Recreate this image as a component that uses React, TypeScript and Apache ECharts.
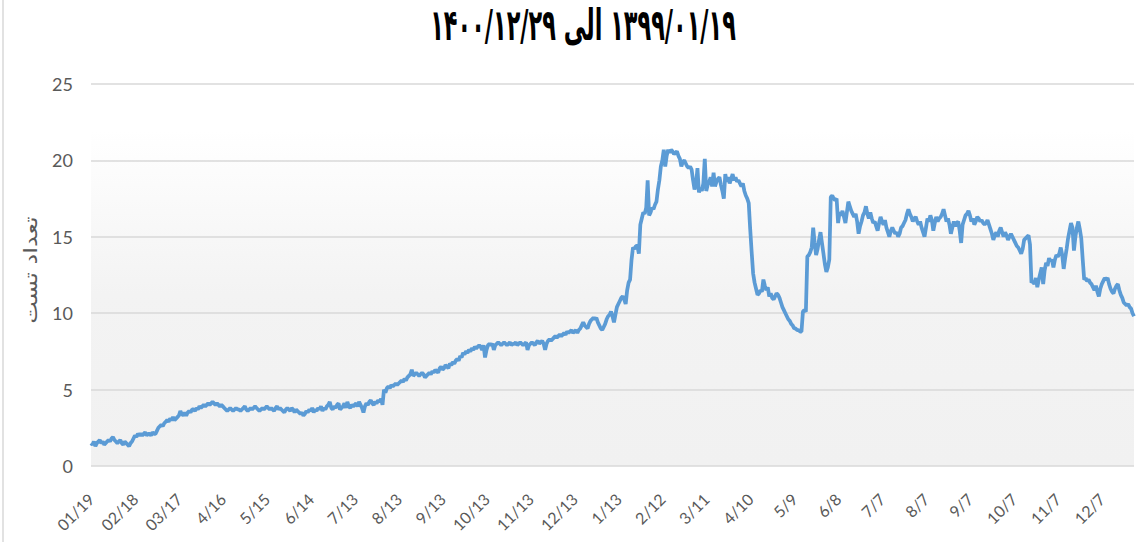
import React, { useEffect, useRef } from "react";
import * as echarts from "echarts";

const titleText = "\u061C۱۳۹۹/۰۱/۱۹ الی ۱۴۰۰/۱۲/۲۹";
const yAxisName = "تعداد تست";

const tickLabels = ["01/19","02/18","03/17","4/16","5/15","6/14","7/13","8/13","9/13","10/13","11/13","12/13","1/13","2/12","3/11","4/10","5/9","6/8","7/7","8/7","9/7","10/7","11/7","12/7"];

const month01 = [1.5,1.4,1.6,1.3,1.5,1.6,1.7,1.5,1.6,1.4,1.5,1.6,1.7,1.6,1.8,1.9,1.7,1.6,1.5,1.6,1.7,1.5,1.4,1.6,1.5,1.4,1.3,1.5,1.6,1.8];
const month02 = [2.0,1.9,2.1,2.0,2.1,2.0,2.1,2.2,2.0,2.1,2.1,2.0,2.2,2.1,2.1,2.3,2.5,2.6,2.7,2.6,2.8,2.9,3.0,2.9,3.1,3.0,3.2,3.0,3.1,3.2];
const month03 = [3.3,3.6,3.4,3.3,3.5,3.3,3.5,3.6,3.5,3.7,3.7,3.6,3.8,3.7,3.9,3.8,3.9,4.0,3.9,4.0,4.1,4.0,4.1,4.2,4.1,4.0,4.1,4.0,3.9,4.0];
const month04 = [3.9,3.8,3.7,3.6,3.7,3.8,3.7,3.6,3.7,3.8,3.7,3.7,3.6,3.7,3.8,3.9,3.7,3.6,3.7,3.8,3.7,3.8,3.9,3.8,3.7,3.6,3.7,3.8,3.7,3.8];
const month05 = [3.9,3.8,3.7,3.8,3.7,3.6,3.8,3.9,3.7,3.8,3.7,3.6,3.5,3.7,3.8,3.7,3.6,3.8,3.7,3.5,3.7,3.6,3.5,3.4,3.5,3.3,3.4,3.6,3.5,3.7];
const month06 = [3.6,3.8,3.5,3.7,3.6,3.8,3.7,3.9,3.6,3.8,3.7,3.9,4.0,4.2,3.8,3.7,3.9,3.8,4.0,4.1,3.7,3.8,3.9,4.1,3.8,4.2,3.9,3.8,4.0,3.9];
const month07 = [4.0,4.1,3.9,4.2,4.0,3.8,3.5,3.9,4.1,4.0,4.2,4.3,4.1,4.0,4.2,4.1,4.3,4.2,4.4,4.0,5.0,4.8,5.1,5.2,5.1,5.3,5.2,5.3,5.4,5.3];
const month08 = [5.4,5.5,5.6,5.5,5.7,5.6,5.8,5.9,6.0,6.3,5.9,6.0,6.1,6.0,5.9,6.0,6.1,6.0,5.8,5.9,6.0,6.1,6.0,6.2,6.1,6.3,6.2,6.1,6.4,6.5];
const month09 = [6.3,6.4,6.6,6.5,6.4,6.7,6.6,6.8,6.7,6.9,7.0,6.9,7.2,7.1,7.4,7.3,7.5,7.4,7.6,7.5,7.7,7.6,7.8,7.7,7.8,7.9,7.8,7.6,7.9,7.1];
const month10 = [7.6,7.9,8.0,7.9,8.0,7.6,7.9,8.0,8.1,8.0,7.9,8.0,8.1,8.0,7.9,8.0,8.1,7.9,8.0,8.0,8.1,7.9,8.0,8.1,8.0,7.9,8.0,8.1,7.6,7.9];
const month11 = [8.0,8.1,8.0,7.9,8.1,8.2,8.0,8.1,8.2,8.0,7.6,8.0,8.2,8.3,8.2,8.3,8.4,8.5,8.4,8.5,8.6,8.5,8.6,8.7,8.6,8.8,8.7,8.8,8.9,8.7];
const month12 = [8.8,8.9,8.7,8.9,9.0,9.2,9.4,9.2,9.1,9.0,9.3,9.5,9.6,9.7,9.6,9.7,9.4,9.2,9.0,8.9,9.1,9.3,9.6,9.8,9.9,10.1,9.8,9.4,9.9,10.4];
const month13 = [10.6,10.8,11.0,11.1,10.9,10.6,11.5,12.0,12.2,13.5,14.3,14.2,14.4,14.4,13.9,15.8,16.2,16.6,16.5,16.9,18.7,16.4,16.6,16.9,16.8,17.1,17.3,18.1,18.7,19.6];
const month14 = [20.0,20.7,19.6,20.3,20.7,20.5,20.7,20.6,20.4,20.5,20.6,20.3,20.1,19.6,19.9,20.0,19.8,19.6,19.5,19.6,19.4,18.7,18.1,18.4,19.5,17.9,18.2,18.0,18.5,20.1];
const month15 = [18.0,18.4,18.6,18.9,18.3,19.2,18.3,18.6,18.8,18.9,18.4,18.0,17.5,19.1,18.6,18.9,18.5,18.8,19.1,18.7,18.9,18.6,18.7,18.5,18.3,18.5,18.0,17.7,17.5,17.2];
const month16 = [15.5,14.0,12.6,12.0,11.6,11.2,11.3,11.5,11.4,12.2,11.8,11.5,11.7,11.1,11.3,11.0,10.9,11.1,11.3,11.2,11.0,10.7,10.4,10.2,10.0,9.8,9.6,9.5,9.3,9.2];
const month17 = [9.0,9.0,8.9,8.9,8.8,8.8,10.1,10.2,10.1,13.7,13.8,14.0,14.3,15.6,14.6,13.8,14.2,14.8,15.3,14.6,13.9,13.2,12.7,13.0,13.5,17.6,17.7,17.5,17.4,17.5];
const month18 = [15.9,16.6,16.4,16.7,16.3,15.9,16.6,17.3,17.0,16.7,16.5,16.3,16.5,16.0,15.2,15.7,16.0,16.4,16.6,17.0,16.5,16.2,16.6,16.2,15.9,16.0,15.7,15.4,15.9,16.3];
const month19 = [16.0,15.8,16.1,15.6,15.3,15.0,15.4,15.6,15.4,15.2,15.3,15.0,15.2,15.6,15.7,15.9,16.1,16.5,16.8,16.5,16.3,16.0,16.2,16.3,16.0,15.8,16.0,15.6,15.3,15.0];
const month20 = [15.6,16.2,16.0,16.4,16.1,15.4,15.9,16.3,16.0,16.2,16.3,16.5,16.8,16.4,16.0,16.2,15.8,15.2,15.6,16.0,15.7,15.9,16.0,15.4,14.6,15.8,16.1,16.4,16.5,16.7];
const month21 = [16.4,16.0,16.2,15.8,16.0,16.3,16.2,16.0,16.1,15.9,15.8,15.9,16.1,15.8,15.5,15.2,14.8,15.1,15.3,15.0,15.4,15.6,15.3,15.0,15.3,15.1,14.8,15.0,15.2,15.0];
const month22 = [14.8,14.6,14.4,14.3,14.1,13.9,14.2,14.8,14.9,15.0,15.1,14.5,12.0,12.1,11.9,12.3,11.7,12.2,12.6,13.0,11.9,12.8,13.3,13.1,13.6,13.4,13.5,13.0,13.5,13.8];
const month23 = [13.7,13.9,14.3,13.8,12.9,13.6,14.2,14.9,15.4,15.9,15.6,14.1,15.0,15.6,16.0,15.5,14.9,13.5,12.2,12.3,12.1,12.2,12.0,11.9,11.7,11.5,11.8,11.4,11.1,11.6];
const month24 = [11.9,12.1,12.3,12.2,12.3,11.9,11.6,11.4,11.3,11.6,11.8,11.9,11.5,11.2,11.0,10.7,10.6,10.5,10.6,10.4,10.3,10.0,9.8];

const values = [
  ...month01, ...month02, ...month03, ...month04, ...month05, ...month06,
  ...month07, ...month08, ...month09, ...month10, ...month11, ...month12,
  ...month13, ...month14, ...month15, ...month16, ...month17, ...month18,
  ...month19, ...month20, ...month21, ...month22, ...month23, ...month24,
];
const categories = values.map((_, i) => String(i));

export default function App() {
  const ref = useRef<HTMLDivElement>(null);
  useEffect(() => {
    if (!ref.current) return;
    const chart = echarts.init(ref.current, null, { renderer: "svg" });
    chart.setOption({
      animation: false,
      backgroundColor: "#ffffff",
      grid: {
        left: 91,
        right: 2,
        top: 84,
        bottom: 76,
        show: true,
        borderWidth: 0,
        backgroundColor: new echarts.graphic.LinearGradient(0, 0, 0, 1, [
          { offset: 0, color: "#ffffff" },
          { offset: 0.12, color: "#ffffff" },
          { offset: 0.55, color: "#f3f3f3" },
          { offset: 1, color: "#f1f1f1" },
        ]),
      },
      graphic: [
        {
          type: "line",
          shape: { x1: 3, y1: 0, x2: 3, y2: 542 },
          style: { stroke: "#d9d9d9", lineWidth: 1.5 },
          silent: true,
        },
        {
          type: "text",
          x: 583,
          y: 25,
          scaleX: 0.8,
          scaleY: 1.55,
          style: {
            text: titleText,
            font: "bold 28px 'DejaVu Sans'",
            fill: "#000000",
            textAlign: "center",
            textVerticalAlign: "middle",
          },
        },
        {
          type: "text",
          x: 30,
          y: 270,
          rotation: Math.PI / 2,
          scaleX: 1.2,
          scaleY: 0.95,
          style: {
            text: yAxisName,
            font: "20px 'DejaVu Sans'",
            fill: "#595959",
            textAlign: "center",
            textVerticalAlign: "middle",
          },
        },
      ],
      xAxis: {
        type: "category",
        data: categories,
        boundaryGap: false,
        axisLine: { show: false },
        axisTick: { show: false },
        splitLine: { show: false },
        axisLabel: {
          interval: 29,
          rotate: 45,
          margin: 30,
          color: "#595959",
          fontSize: 16,
          fontFamily: "Lato",
          formatter: (_v: string, i: number) => (i % 30 === 0 ? tickLabels[i / 30] ?? "" : ""),
        },
      },
      yAxis: {
        type: "value",
        min: 0,
        max: 25,
        interval: 5,
        axisLine: { show: false },
        axisTick: { show: false },
        axisLabel: { color: "#595959", fontSize: 18, fontFamily: "Lato", margin: 18 },
        splitLine: { lineStyle: { color: "#d9d9d9", width: 1.5 } },
      },
      series: [
        {
          type: "line",
          data: values,
          showSymbol: false,
          symbol: "none",
          lineStyle: { color: "#5b9bd5", width: 3.75 },
          itemStyle: { color: "#5b9bd5" },
        },
      ],
    });
    return () => chart.dispose();
  }, []);
  return (
    <div
      ref={ref}
      style={{ position: "fixed", left: 0, top: 0, width: 1136, height: 542 }}
    />
  );
}
